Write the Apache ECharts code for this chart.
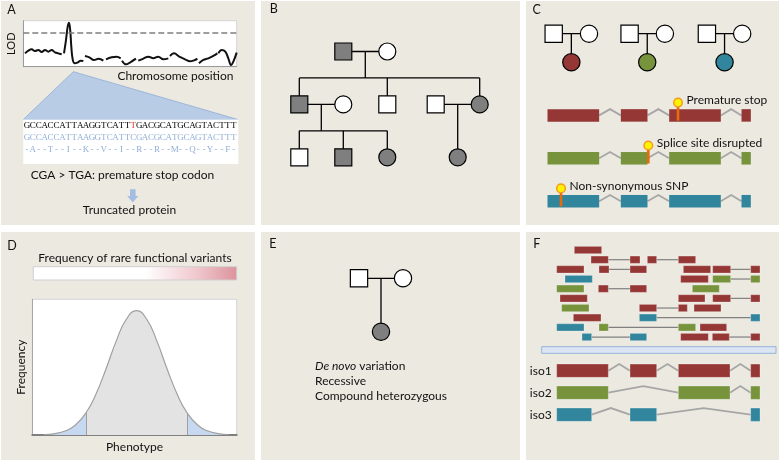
<!DOCTYPE html>
<html><head><meta charset="utf-8">
<script src="https://cdn.jsdelivr.net/npm/echarts@6/dist/echarts.min.js"></script>
<style>html,body{margin:0;padding:0;background:#fff}#c{width:780px;height:461px}</style>
</head><body><div id="c"></div>
<script>
// ===================== DATA =====================
// Panel A: LOD profile along the chromosome (position 0-100, LOD 0-10)
const lodSegments = [
 [[0.8,2.9],[2.36,3.48],[3.92,3.78],[5.48,3.41],[7.04,3.63],[8.6,3.2],[10.17,3.63],[11.73,3.27],[13.29,3.63],[14.85,3.12],[16.42,2.9],[17.98,2.69]],
 [[19.07,2.9],[20.0,5.8],[20.8,8.7],[21.42,9.57],[22.04,7.62],[22.5,4.35],[23.14,1.6],[24.07,0.73],[25.32,0.88],[26.88,1.31],[28.13,1.24]],
 [[28.9,2.33],[30.94,2.04],[33.13,1.46],[35.32,1.75],[37.5,1.31]],
 [[38.75,1.6],[41.41,2.04],[43.75,2.18],[45.63,1.82]],
 [[46.25,1.31],[48.13,0.51],[50.31,1.02],[52.8,1.75]],
 [[53.9,1.31],[56.25,1.75],[58.6,2.18],[60.9,1.82],[63.28,2.18],[65.6,1.6],[67.96,1.82]],
 [[68.74,2.33],[70.62,2.9],[73.11,2.18],[75.77,1.6],[78.11,1.17],[80.46,1.46],[81.55,1.75]],
 [[82.33,0.73],[84.36,1.46],[86.7,1.82],[89.05,2.33],[90.92,2.9]],
 [[91.39,2.9],[92.95,3.63],[94.67,3.27],[96.08,1.82],[97.33,0.37],[98.42,1.09],[99.98,3.05]]
];
const lodThreshold = 7.3;
const seqMutant    = 'GCCACCATTAAGGTCATTTGACGCATGCAGTACTTT';
const seqReference = 'GCCACCATTAAGGTCATTCGACGCATGCAGTACTTT';
const aminoAcids   = '-A--T--I--K--V--I--R--R--M--Q--Y--F-';
const mutationIndex = 18;
const textA = ['Chromosome position', 'CGA > TGA: premature stop codon', 'Truncated protein'];

// Pedigrees: [x slot, generation, sex, status]  status: 0 unaffected, 1 affected, 2/3/4 coloured probands
const pedB = [
 [1,1,'M',1],[2,1,'F',0],
 [0,2,'M',1],[1,2,'F',0],[2,2,'M',0],[3.1,2,'M',0],[4.1,2,'F',1],
 [0,3,'M',0],[1,3,'M',1],[2,3,'F',1],[3.6,3,'F',1]
];
const famB = [[0,1,[2,4,6]],[2,3,[7,8,9]],[5,6,[10]]];
const pedC = [
 [0,1,'M',0],[1,1,'F',0],[0.5,2,'F',2],
 [2.15,1,'M',0],[3.15,1,'F',0],[2.65,2,'F',3],
 [4.34,1,'M',0],[5.34,1,'F',0],[4.84,2,'F',4]
];
const famC = [[0,1,[2]],[3,4,[5]],[6,7,[8]]];
const pedE = [[0,1,'M',0],[1,1,'F',0],[0.5,2,'F',1]];
const famE = [[0,1,[2]]];

// Panel C: gene model and variants
const geneExons = [[110,265],[330,410],[475,630],[692,720]];
const variantPos = [501.5, 412.4, 150.5];
const variantLabels = ['Premature stop', 'Splice site disrupted', 'Non-synonymous SNP'];

// Panel D: phenotype distribution
const phenoX    = [6,11,16,21,26.3,31,36,41,46,51,56,61,66,71,75.7,81,86,91,96];
const phenoFreq = [0.3,1.0,2.9,7.2,16.4,29.6,48.5,69.0,85.3,91.6,85.3,69.0,48.5,29.6,16.4,7.2,2.9,1.0,0.3];
const tailCutoffs = [26.3, 75.7];
const textD = ['Frequency of rare functional variants', 'Frequency', 'Phenotype'];

// Panel E
const inheritanceModes = ['De novo variation', 'Recessive', 'Compound heterozygous'];

// Panel F: reads [row, isoform, start, end, start2, end2] and isoforms
const isoNames = ['iso1', 'iso2', 'iso3'];
const isoExons = [
 [[110,265],[330,410],[475,630],[692,720]],
 [[110,265],[475,630],[692,720]],
 [[110,215],[330,410],[692,720]]
];
const reads = [
 [1,0,163,245],
 [2,0,213,265,330,360],[2,0,382,410,475,527],
 [3,0,110,192],[3,0,237,267,330,380],[3,0,490,572],[3,0,578,632,692,720],
 [4,2,135,217],[4,0,482,565],[4,1,578,632,692,720],
 [5,1,110,192],[5,0,235,265,330,380],[5,1,517,598],
 [6,0,120,202],[6,0,475,555],[6,0,578,632,692,720],
 [7,1,125,207],[7,0,358,410,475,502],[7,0,522,603],
 [8,0,160,243],[8,2,358,410,692,720],
 [9,2,110,192],[9,1,237,265,475,527],[9,0,540,620],
 [10,2,186,215,330,380],[10,0,482,565],[10,0,577,628,692,720]
];

// ===================== STYLE =====================
const FONT = 'Lato';
const INK = '#111';
const PANEL_BG = '#ece9e1';
const trackColors = ['#953735', '#77933c', '#31859c'];
const pedFills = ['#ffffff', '#7f7f7f', '#953735', '#77933c', '#31859c'];

const chart = echarts.init(document.getElementById('c'), null, {renderer: 'canvas', width: 780, height: 461});

const grids = [], xAxes = [], yAxes = [], series = [];
function addGrid(g, x, y) {
  const i = grids.length;
  grids.push(Object.assign({outerBoundsMode: 'none', containLabel: false}, g));
  xAxes.push(Object.assign({gridIndex: i, type: 'value', show: false}, x));
  yAxes.push(Object.assign({gridIndex: i, type: 'value', show: false}, y));
  return i;
}
const bareAxis = {axisTick: {show: false}, axisLabel: {show: false}, splitLine: {show: false}};

function T(text, x, y, o) {
  o = o || {};
  const al = o.align || 'left';
  return {type: 'text', z: 100, silent: true,
    style: Object.assign({text: text, x: x, y: y, fill: INK, fontFamily: FONT, fontSize: o.size || 12,
      align: al, verticalAlign: 'middle', textAlign: al, textVerticalAlign: 'middle'}, o.style || {})};
}

// ---------- Panel A ----------
const gLod = addGrid({left: 23.3, top: 20.7, width: 213.4, height: 46, show: true, backgroundColor: '#fff', borderColor: '#d4d4d4', borderWidth: 1},
  Object.assign({show: true, min: 0, max: 100, axisLine: {show: true, onZero: false, lineStyle: {color: '#9a9a9a', width: 1}}}, bareAxis),
  Object.assign({show: true, min: 0, max: 10, axisLine: {show: true, onZero: false, lineStyle: {color: '#9a9a9a', width: 1}},
    name: 'LOD', nameLocation: 'middle', nameRotate: 90, nameGap: 6,
    nameTextStyle: {fontFamily: FONT, fontSize: 11, color: INK}}, bareAxis));
lodSegments.forEach((seg, k) => {
  const s = {type: 'line', xAxisIndex: gLod, yAxisIndex: gLod, data: seg, smooth: 0.4, showSymbol: false, symbol: 'none',
    lineStyle: {color: '#111', width: 2}, silent: true, z: 3};
  if (k === 0) s.markLine = {silent: true, symbol: 'none', label: {show: false},
    lineStyle: {color: '#7f7f7f', width: 1.5, type: [6, 3]}, data: [{yAxis: lodThreshold}]};
  series.push(s);
});

const gSeq = addGrid({left: 24, top: 120.2, width: 212.7, height: 35}, {min: 0, max: 36}, {min: 0.5, max: 3.5, inverse: true});
const seqRows = [seqMutant, seqReference, aminoAcids];
const seqData = [];
seqRows.forEach((s, r) => { for (let i = 0; i < s.length; i++) seqData.push([i + 0.5, r + 1]); });
series.push({type: 'custom', xAxisIndex: gSeq, yAxisIndex: gSeq, data: seqData, encode: {x: 0, y: 1}, silent: true, z: 5,
  renderItem: (params, api) => {
    const row = api.value(1), i = Math.round(api.value(0) - 0.5);
    const ch = seqRows[row - 1][i];
    const p = api.coord([api.value(0), row]);
    const col = row === 1 ? (i === mutationIndex ? '#e0342a' : '#000') : '#93afd6';
    return {type: 'text', x: p[0], y: p[1], style: {text: ch, fill: col, fontFamily: 'Liberation Serif', fontSize: 9,
      align: 'center', verticalAlign: 'middle', textAlign: 'center', textVerticalAlign: 'middle'}};
  }});

// ---------- Pedigree helper ----------
function pedigree(gi, people, fams, size) {
  const segs = [];
  fams.forEach(([f, m, kids]) => {
    const P = people[f], Q = people[m], g = P[1];
    segs.push([P[0], g, Q[0], g]);
    const mid = (P[0] + Q[0]) / 2;
    if (kids.length === 1 && Math.abs(people[kids[0]][0] - mid) < 0.01) {
      segs.push([mid, g, mid, g + 1]);
    } else {
      const xs = kids.map(k => people[k][0]).concat([mid]);
      segs.push([mid, g, mid, g + 0.5]);
      segs.push([Math.min(...xs), g + 0.5, Math.max(...xs), g + 0.5]);
      kids.forEach(k => segs.push([people[k][0], g + 0.5, people[k][0], g + 1]));
    }
  });
  series.push({type: 'custom', xAxisIndex: gi, yAxisIndex: gi, data: segs, encode: {x: [0, 2], y: [1, 3]}, silent: true, z: 2,
    renderItem: (params, api) => {
      const a = api.coord([api.value(0), api.value(1)]), b = api.coord([api.value(2), api.value(3)]);
      return {type: 'line', shape: {x1: a[0], y1: a[1], x2: b[0], y2: b[1]}, style: {stroke: '#000', lineWidth: 1.3}};
    }});
  series.push({type: 'scatter', xAxisIndex: gi, yAxisIndex: gi, symbolSize: size, silent: true, z: 4,
    itemStyle: {borderColor: '#000', borderWidth: 1.2, opacity: 1},
    data: people.map(p => ({value: [p[0], p[1]], symbol: p[2] === 'M' ? 'rect' : 'circle', itemStyle: {color: pedFills[p[3]]}}))});
}

// ---------- Panel B ----------
const gB = addGrid({left: 255.3, top: 25.05, width: 264, height: 158.7}, {min: -1, max: 5}, {min: 0.5, max: 3.5, inverse: true});
pedigree(gB, pedB, famB, 17);

// ---------- Panel C ----------
const gCp = addGrid({left: 518.4, top: 19.4, width: 247.1, height: 57.2}, {min: -1, max: 6}, {min: 0.5, max: 2.5, inverse: true});
pedigree(gCp, pedC, famC, 17.3);

function transcript(api, exons, y, h, color, stroke) {
  const ch = [];
  const cy = api.coord([exons[0][0], y])[1];
  for (let k = 0; k < exons.length - 1; k++) {
    const a = api.coord([exons[k][1], y])[0], b = api.coord([exons[k + 1][0], y])[0];
    ch.push({type: 'polyline', shape: {points: [[a, cy], [(a + b) / 2, cy - h / 2], [b, cy]]},
      style: {stroke: '#a6a6a6', lineWidth: 1.8, fill: null}});
  }
  exons.forEach(([s, e]) => {
    const a = api.coord([s, y])[0], b = api.coord([e, y])[0];
    ch.push({type: 'rect', shape: {x: a, y: cy - h / 2, width: b - a, height: h},
      style: {fill: color, stroke: stroke || null, lineWidth: stroke ? 0.8 : 0}});
  });
  return ch;
}

const gCg = addGrid({left: 520, top: 93.95, width: 260, height: 128.7}, {min: 27.5, max: 807.5}, {min: 0.5, max: 3.5, inverse: true});
series.push({type: 'custom', xAxisIndex: gCg, yAxisIndex: gCg, data: [[110, 1], [110, 2], [110, 3]], encode: {x: 0, y: 1}, silent: true, z: 3,
  renderItem: (params, api) => ({type: 'group', children: transcript(api, geneExons, api.value(1), 12.5, trackColors[params.dataIndex])})});
series.push({type: 'custom', xAxisIndex: gCg, yAxisIndex: gCg, data: variantPos.map((p, i) => [p, i + 1]), encode: {x: 0, y: 1}, silent: true, z: 6,
  renderItem: (params, api) => {
    const p = api.coord([api.value(0), api.value(1)]);
    const cx = p[0], cy = p[1], yc = cy - 12.8;
    return {type: 'group', children: [
      {type: 'rect', shape: {x: cx - 1.35, y: yc + 3, width: 2.7, height: cy + 5.2 - (yc + 3)}, style: {fill: '#e46c0a'}},
      {type: 'circle', shape: {cx: cx, cy: yc, r: 4.3}, style: {fill: '#fff200', stroke: '#f39a1e', lineWidth: 1.5}},
      {type: 'text', x: cx + 8.5, y: yc - 2.7, style: {text: variantLabels[params.dataIndex], fill: INK, fontFamily: FONT, fontSize: 12,
        align: 'left', verticalAlign: 'middle', textAlign: 'left', textVerticalAlign: 'middle'}}
    ]};
  }});

// ---------- Panel D ----------
const gD = addGrid({left: 32.3, top: 299.3, width: 204.4, height: 135.7, show: true, backgroundColor: '#fff', borderColor: '#d4d4d4', borderWidth: 1},
  Object.assign({show: true, min: 0, max: 100, axisLine: {show: true, onZero: false, lineStyle: {color: '#808080', width: 2}},
    name: textD[2], nameLocation: 'middle', nameGap: 6, nameTextStyle: {fontFamily: FONT, fontSize: 12, color: INK, verticalAlign: 'top'}}, bareAxis),
  Object.assign({show: true, min: 0, max: 100, axisLine: {show: true, onZero: false, lineStyle: {color: '#a6a6a6', width: 1}},
    name: textD[1], nameLocation: 'middle', nameRotate: 90, nameGap: 5, nameTextStyle: {fontFamily: FONT, fontSize: 12, color: INK}}, bareAxis));
const phenoPts = phenoX.map((x, i) => [x, phenoFreq[i]]);
const leftTail = phenoPts.filter(p => p[0] <= tailCutoffs[0]);
const rightTail = phenoPts.filter(p => p[0] >= tailCutoffs[1]);
const noLine = {width: 0, opacity: 0};
series.push({type: 'line', xAxisIndex: gD, yAxisIndex: gD, data: phenoPts, smooth: 0.5, symbol: 'none', silent: true, z: 2,
  lineStyle: noLine, areaStyle: {color: '#e3e3e3', opacity: 1}});
series.push({type: 'line', xAxisIndex: gD, yAxisIndex: gD, data: leftTail, smooth: 0.5, symbol: 'none', silent: true, z: 3,
  lineStyle: noLine, areaStyle: {color: '#c6d9f1', opacity: 1}});
series.push({type: 'line', xAxisIndex: gD, yAxisIndex: gD, data: rightTail, smooth: 0.5, symbol: 'none', silent: true, z: 3,
  lineStyle: noLine, areaStyle: {color: '#c6d9f1', opacity: 1}});
series.push({type: 'line', xAxisIndex: gD, yAxisIndex: gD, data: phenoPts, smooth: 0.5, symbol: 'none', silent: true, z: 4,
  lineStyle: {color: '#a0a0a0', width: 1.2},
  markLine: {silent: true, symbol: 'none', label: {show: false}, lineStyle: {color: '#a0a0a0', width: 1, type: 'solid'},
    data: tailCutoffs.map(c => [{coord: [c, 0]}, {coord: [c, phenoFreq[phenoX.indexOf(c)]]}])}});

// ---------- Panel E ----------
const gE = addGrid({left: 271, top: 251.6, width: 264, height: 106.8}, {min: -2, max: 4}, {min: 0.5, max: 2.5, inverse: true});
pedigree(gE, pedE, famE, 17.3);

// ---------- Panel F ----------
const gFr = addGrid({left: 520, top: 245.2, width: 260, height: 96.67}, {min: 0, max: 780}, {min: 0.5, max: 10.5, inverse: true});
series.push({type: 'custom', xAxisIndex: gFr, yAxisIndex: gFr, data: reads.map(r => [r[2], r[0]]), encode: {x: 0, y: 1}, silent: true, z: 3,
  renderItem: (params, api) => {
    const r = reads[params.dataIndex], row = r[0], col = trackColors[r[1]];
    const blocks = [[r[2], r[3]]];
    if (r.length > 4) blocks.push([r[4], r[5]]);
    const cy = api.coord([r[2], row])[1], h = 7.3, ch = [];
    if (blocks.length > 1) {
      const a = api.coord([blocks[0][1], row])[0], b = api.coord([blocks[1][0], row])[0];
      ch.push({type: 'line', shape: {x1: a, y1: cy, x2: b, y2: cy}, style: {stroke: '#808080', lineWidth: 1.2}});
    }
    blocks.forEach(([s, e]) => {
      const a = api.coord([s, row])[0], b = api.coord([e, row])[0];
      ch.push({type: 'rect', shape: {x: a, y: cy - h / 2, width: b - a, height: h}, style: {fill: col, stroke: 'rgba(255,255,255,0.35)', lineWidth: 0.8}});
    });
    return {type: 'group', children: ch};
  }});

const gFi = addGrid({left: 556.67, top: 359.7, width: 223.33, height: 66},
  {min: 110, max: 780},
  {show: true, type: 'category', data: isoNames, inverse: true, axisLine: {show: false}, axisTick: {show: false}, splitLine: {show: false},
   axisLabel: {show: true, margin: 5, fontFamily: FONT, fontSize: 12, color: INK}});
series.push({type: 'custom', xAxisIndex: gFi, yAxisIndex: gFi, data: isoExons.map((ex, i) => [ex[0][0], i]), encode: {x: 0, y: 1}, silent: true, z: 3,
  renderItem: (params, api) => ({type: 'group', children:
    transcript(api, isoExons[params.dataIndex], api.value(1), 13.3, trackColors[params.dataIndex], 'rgba(255,255,255,0.35)')})});

// ===================== GRAPHIC (layout decorations & text) =====================
const panels = [[1,1,254,224],[261,1,259,224],[526,1,253,224],[1,232,254,228],[261,232,259,228],[526,232,253,228]];
const graphic = panels.map(p => ({type: 'rect', z: -100, silent: true, shape: {x: p[0], y: p[1], width: p[2], height: p[3]}, style: {fill: PANEL_BG}}));
const letters = [['A',7.3,10.3],['B',269.8,9.4],['C',532.5,10],['D',7.3,245.5],['E',269.3,244.2],['F',533.3,244.2]];
letters.forEach(l => graphic.push(T(l[0], l[1], l[2], {size: 12.5})));
// Panel A decorations
graphic.push({type: 'polygon', z: -50, silent: true, shape: {points: [[73.3,71.7],[23.3,119.5],[237.8,119.5]]},
  style: {fill: '#b8cce6', stroke: '#9db6da', lineWidth: 1}});
graphic.push({type: 'rect', z: -40, silent: true, shape: {x: 23.3, y: 119.5, width: 215, height: 44.5}, style: {fill: '#fff'}});
graphic.push({type: 'polygon', z: -40, silent: true,
  shape: {points: [[130,189.3],[135.6,189.3],[135.6,196],[138.4,196],[132.8,202.6],[127.2,196],[130,196]]}, style: {fill: '#a3bde3'}});
graphic.push(T(textA[0], 233.5, 76, {align: 'right'}));
graphic.push(T(textA[1], 122.5, 175, {align: 'center'}));
graphic.push(T(textA[2], 129.5, 210, {align: 'center'}));
// Panel D decorations
graphic.push({type: 'rect', z: -40, silent: true, shape: {x: 33.3, y: 266.7, width: 203.4, height: 13.3},
  style: {stroke: '#cfcfcf', lineWidth: 1, fill: {type: 'linear', x: 0, y: 0, x2: 1, y2: 0,
    colorStops: [{offset: 0, color: '#ffffff'}, {offset: 0.55, color: '#ffffff'}, {offset: 0.8, color: '#f0c8cd'}, {offset: 1, color: '#dc939c'}]}}});
graphic.push(T(textD[0], 135, 258.3, {align: 'center'}));
// Panel E text
graphic.push({type: 'text', z: 100, silent: true, style: {text: '{it|De novo} variation', x: 315, y: 365.7, fill: INK, fontFamily: FONT, fontSize: 12,
  align: 'left', verticalAlign: 'middle', textAlign: 'left', textVerticalAlign: 'middle',
  rich: {it: {fontStyle: 'italic', fontFamily: FONT, fontSize: 12, fill: INK}}}});
graphic.push(T(inheritanceModes[1], 315, 381));
graphic.push(T(inheritanceModes[2], 315, 395.7));
// Panel F bar
graphic.push({type: 'rect', z: -40, silent: true, shape: {x: 541.7, y: 346.7, width: 234.3, height: 6.6}, style: {fill: '#dce6f2', stroke: '#95b3d7', lineWidth: 1}});

chart.setOption({
  animation: false,
  backgroundColor: '#ffffff',
  grid: grids, xAxis: xAxes, yAxis: yAxes,
  series: series,
  graphic: graphic
});
</script></body></html>
